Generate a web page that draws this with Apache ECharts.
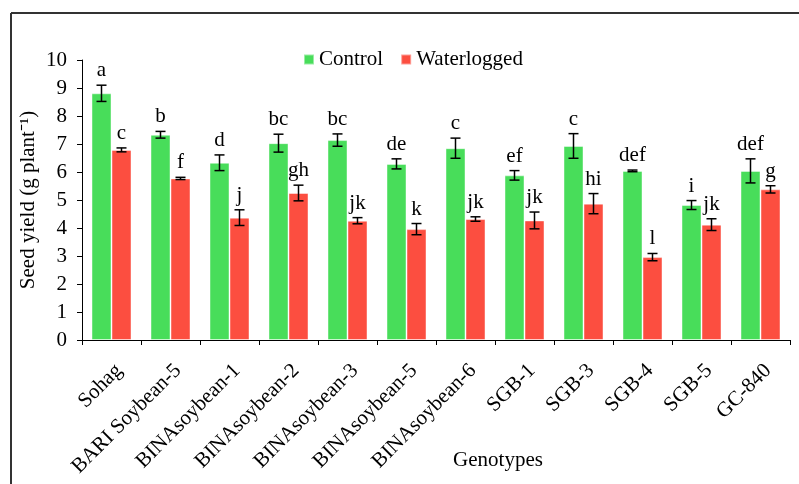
<!DOCTYPE html>
<html><head><meta charset="utf-8">
<script src="https://cdn.jsdelivr.net/npm/echarts@6/dist/echarts.min.js"></script>
<style>html,body{margin:0;padding:0;background:#fff}#c{width:799px;height:484px}</style>
</head><body><div id="c"></div>
<script>
const categories = ['Sohag','BARI Soybean-5','BINAsoybean-1','BINAsoybean-2','BINAsoybean-3','BINAsoybean-5','BINAsoybean-6','SGB-1','SGB-3','SGB-4','SGB-5','GC-840'];
const controlValues = [8.81, 7.33, 6.33, 7.03, 7.14, 6.29, 6.85, 5.88, 6.93, 6.04, 4.82, 6.04];
const controlErrors = [0.29, 0.12, 0.28, 0.32, 0.22, 0.18, 0.36, 0.17, 0.44, 0.03, 0.16, 0.43];
const controlLetters = ['a','b','d','bc','bc','de','c','ef','c','def','i','def'];
const waterValues = [6.79, 5.77, 4.37, 5.25, 4.26, 3.96, 4.32, 4.27, 4.87, 2.96, 4.12, 5.38];
const waterErrors = [0.07, 0.04, 0.28, 0.28, 0.11, 0.20, 0.08, 0.30, 0.36, 0.13, 0.21, 0.13];
const waterLetters = ['c','f','j','gh','jk','k','jk','jk','hi','l','jk','g'];
const yTicks = [0, 10, 1];

const FONT = 'Liberation Serif';
const FS = 21;
const BAR_W = 20;

function errSeries(name, vals, errs, letters, sign) {
  return {
    type: 'custom', name: name + '_err', z: 5, silent: true,
    data: vals.map((v, i) => [i, v, errs[i]]),
    renderItem: function (params, api) {
      const i = api.value(0), v = api.value(1), e = api.value(2);
      const c = api.coord([i, v]);
      const x = c[0] + sign * BAR_W / 2;
      const yt = api.coord([i, v + e])[1];
      const yb = api.coord([i, v - e])[1];
      const cap = 5;
      const st = { stroke: '#000', lineWidth: 1.5 };
      return {
        type: 'group',
        children: [
          { type: 'line', shape: { x1: x, y1: yt, x2: x, y2: yb }, style: st },
          { type: 'line', shape: { x1: x - cap, y1: yt, x2: x + cap, y2: yt }, style: st },
          { type: 'line', shape: { x1: x - cap, y1: yb, x2: x + cap, y2: yb }, style: st },
          { type: 'text', x: x, y: yt - 4, style: { text: letters[params.dataIndex], fill: '#000', font: FS + 'px "' + FONT + '"', textAlign: 'center', textVerticalAlign: 'bottom' } }
        ]
      };
    }
  };
}

const chart = echarts.init(document.getElementById('c'));
chart.setOption({
  animation: false,
  backgroundColor: '#fff',
  textStyle: { fontFamily: FONT },
  grid: { left: 82, right: 9, top: 60, bottom: 144 },
  legend: {
    left: 303, top: 49, padding: 0,
    itemWidth: 10, itemHeight: 10, itemGap: 17,
    icon: 'rect',
    textStyle: { fontFamily: FONT, fontSize: FS, color: '#000' },
    data: ['Control', 'Waterlogged']
  },
  xAxis: {
    type: 'category', data: categories,
    axisLine: { lineStyle: { color: '#000', width: 1 } },
    axisTick: { show: true, interval: 0, length: 5, lineStyle: { color: '#000' } },
    axisLabel: { interval: 0, rotate: 45, margin: 20, verticalAlign: 'top', fontFamily: FONT, fontSize: FS, color: '#000' }
  },
  yAxis: {
    type: 'value', min: yTicks[0], max: yTicks[1], interval: yTicks[2],
    splitLine: { show: false },
    axisLine: { show: true, lineStyle: { color: '#000', width: 1 } },
    axisTick: { show: true, length: 5, lineStyle: { color: '#000' } },
    axisLabel: { margin: 15, fontFamily: FONT, fontSize: FS, color: '#000' }
  },
  series: [
    { name: 'Control', type: 'bar', data: controlValues, barWidth: BAR_W, barGap: '0%',
      itemStyle: { color: '#48DD5A', borderColor: 'rgba(255,255,255,0.45)', borderWidth: 1 } },
    { name: 'Waterlogged', type: 'bar', data: waterValues, barWidth: BAR_W, barGap: '0%',
      itemStyle: { color: '#FC4E40', borderColor: 'rgba(255,255,255,0.45)', borderWidth: 1 } },
    errSeries('Control', controlValues, controlErrors, controlLetters, -1),
    errSeries('Waterlogged', waterValues, waterErrors, waterLetters, 1)
  ],
  graphic: [
    { type: 'line', shape: { x1: 11, y1: 13, x2: 799, y2: 13 }, style: { stroke: '#333', lineWidth: 2 } },
    { type: 'line', shape: { x1: 11, y1: 13, x2: 11, y2: 484 }, style: { stroke: '#333', lineWidth: 2 } },
    { type: 'text', x: 498, y: 460, style: { text: 'Genotypes', font: FS + 'px "' + FONT + '"', fill: '#000', textAlign: 'center', textVerticalAlign: 'middle' } },
    { type: 'text', x: 28, y: 200, rotation: Math.PI / 2, style: { text: 'Seed yield (g plant\u207B\u00B9)', font: FS + 'px "' + FONT + '"', fill: '#000', textAlign: 'center', textVerticalAlign: 'middle' } }
  ]
});
</script>
</body></html>
